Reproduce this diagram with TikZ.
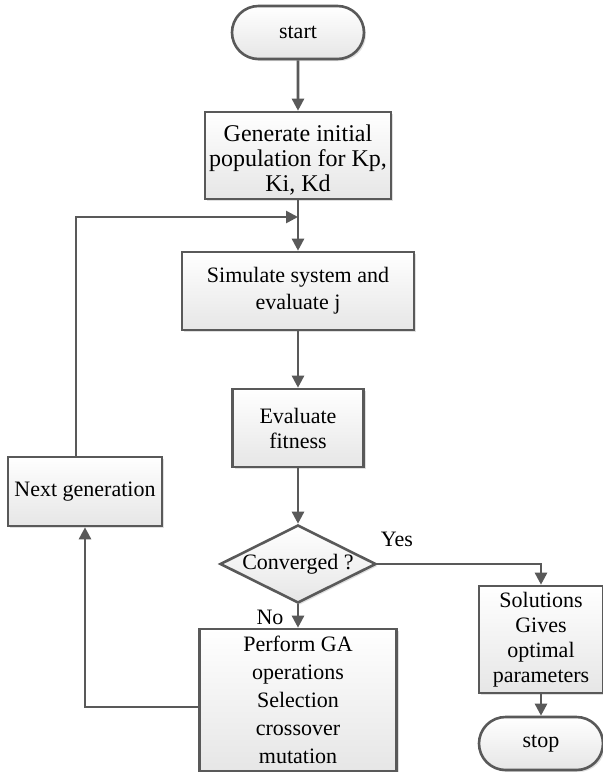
\documentclass[tikz,border=0pt]{standalone}
\usepackage{fontspec}
\setmainfont{Liberation Serif}
\usetikzlibrary{arrows.meta,shapes.geometric,shapes.misc,shadows}

\definecolor{edge}{HTML}{595959}
\definecolor{shadebottom}{HTML}{E6E6E6}

\tikzset{
  basefill/.style={draw=edge, line width=2.6pt, top color=white, bottom color=shadebottom,
    drop shadow={opacity=0.25, shadow xshift=2pt, shadow yshift=-2pt},
    inner sep=0pt, align=center},
  procbox/.style={basefill, rectangle},
  termbox/.style={basefill, rounded rectangle},
  decisionbox/.style={basefill, diamond, shape aspect=2},
  flow/.style={draw=edge, line width=2.6pt, -{Triangle[length=12pt,width=12pt]}},
  txt/.style={font=\fontsize{22}{25}\selectfont},
  bigtxt/.style={font=\fontsize{24}{25}\selectfont},
}

\begin{document}
\begin{tikzpicture}[x=1pt, y=-1pt]
\useasboundingbox (0,0) rectangle (603,772);

% main column
\node[termbox, txt, minimum width=132pt, minimum height=53pt] (start) at (298,32.5) {start};
\node[procbox, minimum width=186pt, minimum height=87pt] (gen) at (298,155.5) {};
\node[bigtxt, align=center, inner sep=0pt] (gentext) at (298,160)
  {Generate initial\\population for Kp,\\Ki, Kd};
\node[procbox, font=\fontsize{22}{27}\selectfont, minimum width=232pt, minimum height=78pt] (sim) at (298,291)
  {Simulate system and\\evaluate j};
\node[procbox, txt, minimum width=131pt, minimum height=78pt] (eval) at (298,428)
  {Evaluate\\fitness};
\node[decisionbox, txt, minimum width=156pt, minimum height=78pt] (conv) at (298,564) {Converged ?};
\node[procbox, font=\fontsize{22}{28}\selectfont, minimum width=197pt, minimum height=142pt] (perf) at (298,700)
  {Perform GA\\operations\\Selection\\crossover\\mutation};

% loop-back branch
\node[procbox, txt, minimum width=154pt, minimum height=69pt] (next) at (85,491.5) {Next generation};

% exit branch
\node[procbox, txt, minimum width=124pt, minimum height=107pt] (sol) at (541,639.5)
  {Solutions\\Gives\\optimal\\parameters};
\node[termbox, txt, minimum width=124pt, minimum height=53pt] (stop) at (541,743.5) {stop};

% junction where the loop rejoins the main column
\coordinate (merge) at (298,217);

% connectors
\draw[flow] (start) -- (gen);
\draw[flow] (gen.south) -- (sim.north);
\draw[flow] ([xshift=-9pt]next.north) |- (merge);
\draw[flow] (sim) -- (eval);
\draw[flow] (eval) -- (conv);
\draw[flow] (conv.south) -- (perf.north);
\draw[flow] ([yshift=-7pt]perf.west) -| (next.south);
\draw[flow] (conv.east) -| (sol.north);
\draw[flow] (sol) -- (stop);

% branch labels
\node[txt, inner sep=0pt] (yeslbl) at (397,539) {Yes};
\node[txt, inner sep=0pt] (nolbl) at (270,617) {No};
\end{tikzpicture}
\end{document}
